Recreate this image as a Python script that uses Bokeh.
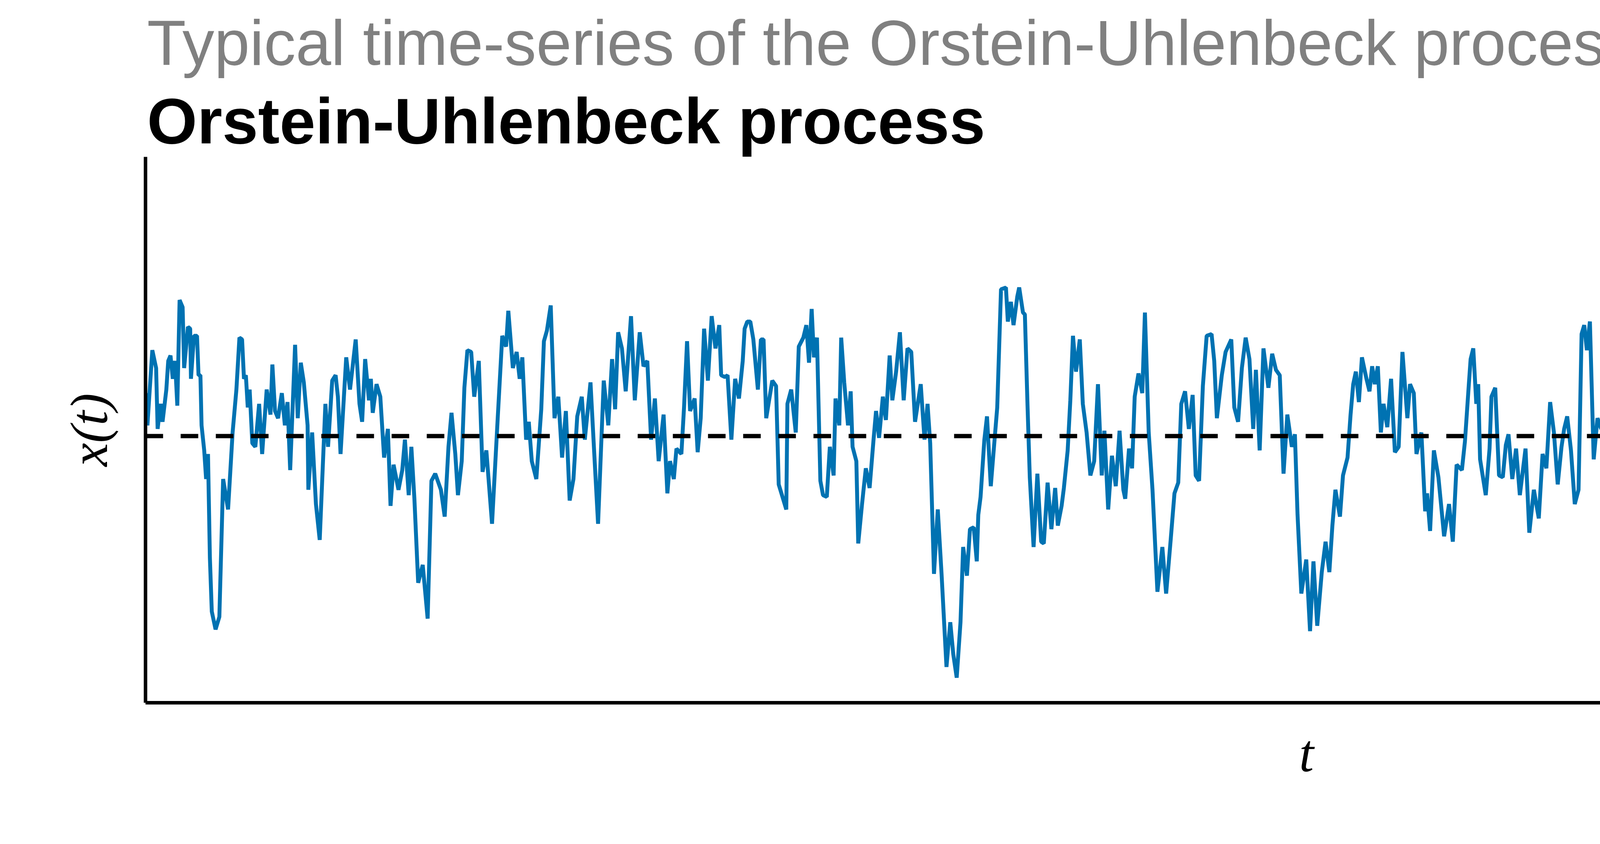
from bokeh.plotting import figure
from bokeh.models import Span, Range1d, Title
from bokeh.embed import file_html
from bokeh.resources import INLINE

# time steps (arbitrary units) and process values
t = [10, 15, 28, 38, 42, 50, 55, 65, 70, 76, 82, 88, 94, 100, 108, 112, 122, 128, 130, 138, 146, 150, 155, 158, 165, 170, 175, 180, 185, 195, 205, 215, 228, 240, 250, 258, 265, 270, 275, 280, 285, 292, 300, 310, 318, 330, 340, 345, 352, 360, 370, 378, 385, 392, 405, 412, 420, 428, 438, 440, 450, 460, 470, 485, 492, 503, 512, 518, 525, 540, 550, 565, 575, 582, 590, 600, 605, 610, 620, 630, 640, 650, 657, 665, 678, 688, 695, 705, 712, 720, 730, 742, 755, 765, 775, 790, 800, 810, 818, 828, 835, 845, 852, 860, 870, 878, 890, 900, 910, 925, 940, 952, 962, 968, 980, 990, 998, 1005, 1015, 1022, 1030, 1042, 1055, 1062, 1070, 1080, 1090, 1100, 1110, 1120, 1130, 1140, 1150, 1162, 1170, 1185, 1195, 1205, 1220, 1232, 1242, 1250, 1258, 1268, 1278, 1292, 1302, 1315, 1325, 1335, 1345, 1355, 1365, 1378, 1388, 1395, 1405, 1412, 1425, 1432, 1440, 1448, 1460, 1468, 1476, 1485, 1495, 1505, 1515, 1525, 1530, 1540,
     1547, 1557, 1567, 1577, 1587, 1592, 1599, 1607, 1615, 1627, 1635, 1642, 1649, 1665, 1675, 1682, 1702, 1705, 1715, 1727, 1735, 1747, 1755, 1762, 1769, 1775, 1783, 1792, 1799, 1809, 1817, 1827, 1832, 1842, 1847, 1855, 1865, 1872, 1877, 1887, 1892, 1902, 1912, 1922, 1932, 1939, 1947, 1957, 1965, 1975, 1982, 1992, 2002, 2012, 2022, 2032, 2042, 2057, 2067, 2075, 2082, 2092, 2102, 2112, 2125, 2135, 2143, 2152, 2162, 2169, 2179, 2187, 2197, 2205, 2209, 2215, 2225, 2232, 2242, 2252, 2259, 2269, 2282, 2287, 2295, 2302, 2312, 2317, 2327, 2332, 2339, 2345, 2355, 2365, 2375, 2382, 2392, 2402, 2412, 2419, 2429, 2435, 2445, 2452, 2459, 2467, 2477, 2485, 2495, 2505, 2515, 2525, 2535, 2542, 2552, 2562, 2572, 2582, 2592, 2597, 2607, 2615, 2622, 2632, 2642, 2649, 2659, 2669, 2682, 2695, 2705, 2717, 2727, 2737, 2745, 2755, 2765, 2775, 2783, 2792, 2802, 2812, 2825, 2832, 2839, 2852, 2862, 2877, 2885, 2895, 2905, 2915, 2925, 2935, 2942, 2952, 2962, 2975, 2985, 2995, 3005, 3015, 3025, 3037, 3045, 3052, 3062, 3075, 3085,
     3094, 3104, 3116, 3126, 3136, 3144, 3152, 3164, 3172, 3184, 3192, 3199, 3206, 3214, 3222, 3234, 3242, 3249, 3256, 3264, 3272, 3279, 3289, 3299, 3309, 3319, 3329, 3342, 3349, 3359, 3366, 3379, 3389, 3394, 3402, 3412, 3424, 3439, 3452, 3462, 3472, 3486, 3494, 3504, 3509, 3516, 3524, 3529, 3534, 3549, 3559, 3564, 3574, 3584, 3594, 3602, 3609, 3619, 3629, 3639, 3654, 3664, 3676, 3689, 3699, 3709, 3719, 3729, 3739, 3749, 3756, 3764, 3774, 3784, 3794, 3802, 3809, 3816, 3824, 3834, 3844, 3854, 3864, 3874, 3884, 3894, 3904, 3914, 3924, 3934, 3944, 3952, 3962, 3972, 3979, 3984, 3994, 4006, 4019, 4029, 4034, 4049, 4059, 4069, 4079, 4089, 4099, 4109, 4116, 4124, 4134, 4144, 4152, 4159, 4169, 4179, 4189, 4199, 4206, 4216, 4224, 4234, 4242, 4249, 4259, 4272, 4282, 4289, 4299, 4309, 4319, 4329, 4334, 4342, 4346, 4352, 4359, 4369, 4379, 4389, 4399, 4409, 4416, 4424, 4434, 4442, 4449, 4459, 4466, 4474, 4484, 4492, 4502, 4512, 4519, 4529, 4539, 4546, 4556, 4566, 4574, 4584, 4594, 4604, 4614, 4624, 4636,
     4641, 4649, 4656, 4661, 4669, 4676, 4686, 4699, 4709, 4713, 4723, 4733, 4741, 4751, 4761, 4773, 4781, 4789, 4799, 4807, 4821, 4836, 4846, 4856, 4871, 4879, 4891, 4901, 4911, 4921, 4933, 4946, 4959, 4971, 4986, 5001, 5009, 5019, 5029, 5036, 5046, 5053, 5061, 5066, 5076, 5081, 5091, 5099, 5106, 5119, 5126, 5136, 5149, 5156, 5166, 5176, 5186, 5196, 5211, 5221, 5231, 5241, 5251, 5261, 5271, 5281, 5291, 5303, 5311, 5321, 5331, 5341, 5351, 5366, 5376, 5389, 5396, 5406, 5416, 5426, 5436, 5446, 5456, 5461, 5471, 5481, 5491, 5501, 5511, 5521, 5536, 5549, 5559, 5566, 5576, 5586, 5596, 5601, 5613, 5626, 5631, 5641, 5649, 5659, 5669, 5681, 5696, 5706, 5716, 5723, 5736, 5746, 5756, 5761, 5771, 5776, 5786, 5796, 5806, 5819, 5829, 5839, 5846, 5856, 5866, 5876, 5886, 5899, 5909, 5913, 5923, 5933, 5943, 5953, 5961, 5971, 5981, 5993, 6003, 6013, 6021, 6031, 6041, 6051, 6059, 6069, 6079, 6091, 6101, 6111, 6121, 6131]

x = [1.20, 0.30, 2.40, 1.90, 0.20, 0.90, 0.40, 1.30, 2.10, 2.25, 1.60, 2.10, 0.85, 3.80, 3.60, 1.90, 3.05, 3.00, 1.60, 2.80, 2.80, 1.70, 1.70, 0.30, -0.40, -1.20, -0.50, -3.40, -4.90, -5.40, -5.05, -1.20, -2.05, 0.10, 1.30, 2.75, 2.70, 1.60, 1.70, 0.80, 1.30, -0.20, -0.30, 0.90, -0.50, 1.30, 0.60, 2.00, 0.70, 0.50, 1.20, 0.30, 0.95, -0.95, 2.55, 0.50, 2.05, 1.50, 0.30, -1.50, 0.10, -1.90, -2.90, 0.90, -0.30, 1.55, 1.70, 1.10, -0.50, 2.20, 1.30, 2.70, 0.90, 0.40, 2.15, 1.00, 1.60, 0.65, 1.45, 1.10, -0.60, 0.20, -1.95, -0.80, -1.50, -0.95, -0.10, -1.65, -0.30, -1.75, -4.10, -3.60, -5.10, -1.25, -1.05, -1.50, -2.25, -0.30, 0.65, -0.50, -1.65, -0.70, 1.35, 2.40, 2.35, 1.10, 2.10, -1.00, -0.40, -2.45, 0.50, 2.80, 2.50, 3.50, 1.90, 2.35, 1.60, 2.20, -0.10, 0.40, -0.70, -1.20, 0.75, 2.65, 2.95, 3.65, 0.50, 1.10, -0.60, 0.70, -1.80, -1.20, 0.55, 1.10, -0.10, 1.50, -0.50, -2.45, 1.55, 0.30, 2.15, 0.75, 2.90, 2.45, 1.25, 3.35, 1.00, 2.90, 1.95, 2.10, -0.10, 1.05, -0.70, 0.60, -1.60, -0.70, -1.20, -0.35, -0.50, 0.80, 2.65, 0.70, 1.05, -0.45, 0.50, 3.00, 1.55, 3.35, 2.45, 3.10, 1.70, 1.65,
     1.70, -0.10, 1.60, 1.05, 2.10, 3.00, 3.20, 3.20, 2.70, 1.30, 2.70, 2.70, 0.50, 1.55, 1.40, -1.35, -2.05, 0.90, 1.30, 0.10, 2.50, 2.75, 3.10, 2.05, 3.55, 2.20, 2.75, -1.25, -1.65, -1.70, -0.30, -1.10, 1.05, 0.30, 2.75, 1.50, 0.30, 1.25, -0.30, -0.70, -3.00, -1.90, -0.90, -1.45, -0.15, 0.70, -0.05, 1.10, 0.45, 2.25, 1.00, 1.80, 2.90, 1.00, 2.45, 2.35, 0.40, 1.45, -0.10, 0.90, -0.20, -3.85, -2.05, -3.85, -6.45, -5.20, -6.10, -6.75, -5.20, -3.10, -3.90, -2.60, -2.55, -3.50, -2.20, -1.70, -0.10, 0.55, -1.40, -0.10, 0.80, 4.10, 4.15, 3.20, 3.75, 3.10, 3.90, 4.15, 3.45, 3.40, 0.85, -1.15, -3.10, -1.05, -2.95, -3.00, -1.30, -2.60, -1.45, -2.50, -1.95, -1.45, -0.40, 1.00, 2.80, 1.80, 2.70, 0.90, 0.10, -1.10, -0.70, 1.45, -1.10, 0.15, -2.05, -0.55, -1.40, 0.15, -1.50, -1.75, -0.35, -0.90, 1.10, 1.75, 1.20, 3.45, 0.10, -1.50, -4.35, -3.10, -4.40, -2.90, -1.60, -1.30, 0.90, 1.25, 0.20, 1.15, -1.10, -1.25, 1.40, 2.80, 2.85, 2.10, 0.50, 1.70, 2.35, 2.70, 0.80, 0.40, 1.90, 2.75, 2.15, 0.20, 1.85, -0.40, 2.45, 1.35, 2.30, 1.85, 1.70, -1.05, 0.60, -0.30, 0.05, -2.20, -4.40, -3.45, -5.45,
     -3.50, -5.30, -3.80, -2.95, -3.80, -2.50, -1.50, -2.25, -1.10, -0.60, 0.60, 1.45, 1.80, 0.95, 2.20, 1.60, 1.25, 1.95, 1.45, 1.95, 0.10, 0.90, 0.25, 1.60, -0.45, -0.30, 2.35, 0.50, 1.45, 1.20, -0.50, 0.10, -2.10, -1.60, -2.65, -0.40, -1.15, -2.80, -1.90, -2.95, -0.80, -0.95, -0.15, 1.40, 2.15, 2.45, 0.90, 1.45, -0.65, -1.65, -0.35, 1.10, 1.35, -1.10, -1.15, -0.25, 0.05, -1.20, -0.35, -1.65, -0.35, -2.70, -1.50, -2.30, -0.50, -0.90, 0.95, 0.10, -1.35, -0.30, 0.20, 0.55, -0.40, -1.90, -1.50, 2.85, 3.10, 2.40, 3.20, -0.65, 0.50, 0.20, 0.20, -0.95, -1.95, -0.60, -1.55, 0.10, 0.30, -1.15, -0.95, -3.55, -0.35, 0.30, 0.80, 1.45, 1.80, -1.40, 1.35, 0.70, 2.35, 0.30, -1.35, -0.35, -1.00, 0.30, -0.70, -0.25, 0.80, -0.70, -1.25, -1.30, 0.35, 1.05, 1.10, 1.70, 0.85, 1.35, 0.60, 1.45, 2.10, 2.35, 5.60, 6.15, 3.40, 5.75, 3.65, 4.90, 5.85, 3.80, 4.60, 2.95, 6.00, 6.80, 7.05, 5.60, 3.90, 5.10, 6.10, 4.60, 5.70, 2.55, 2.40, 3.45, 5.60, 4.75, 6.60, 4.15, 5.35, 4.10, 2.60, 0.70, 0.20, 0.95, 2.50, 0.05, 1.70, 0.25, 1.75, 0.80, 2.05, 3.00, 3.00, -0.10, 0.95, 1.20, 1.85,
     1.85, -0.15, 0.95, 1.50, 0.60, -0.70, 0.65, 1.30, -0.10, -1.35, -2.20, -0.75, -2.30, -2.90, -1.20, -2.80, -0.45, 2.15, 2.85, 1.20, 2.40, 1.90, 0.20, -2.25, -3.05, -1.85, -1.30, -2.40, -2.80, -2.10, -1.85, -3.25, -1.75, 0.35, -0.60, 0.35, -0.85, 0.35, -0.35, 1.20, 1.40, 0.50, -0.40, -2.15, -2.10, 0.25, -1.10, 0.20, -2.35, -2.40, -0.30, 1.00, 0.35, 0.65, -1.30, -1.95, -0.90, -0.10, -1.85, -1.45, 0.40, 0.95, 0.90, -0.30, -1.30, -0.55, -1.55, 0.65, 0.10, -1.65, -2.05, -0.65, -2.70, -3.50, -0.95, -0.40, -1.90, -0.90, -2.90, -4.05, -0.90, -1.35, -0.20, -2.55, -1.05, -0.90, -2.50, -1.90, -1.25, -3.00, -3.60, -1.35, -0.60, 0.90, 1.15, 0.10, -0.60, -1.60, -1.20, -2.65, -4.90, -3.75, -5.15, -2.65, -3.70, -2.00, -3.70, -2.30, -3.75, -2.15, -3.50, -1.85, -2.30, -0.55, -0.95, -1.75, -0.50, -0.45, -1.40, 0.10, -1.90, -2.05, -1.00, -0.50, 0.15, -1.40, -2.85, -1.05, -1.80, -0.75, -2.95, -2.70, -1.80, -2.70, -2.90, -2.35, -2.60, -0.75, -2.65, -0.85, -2.25, -3.25, -1.25, -2.00, -0.40, 0.65, -1.55, -0.50, 0.10, -0.60, 0.70, -1.40]

mean_level = 0.0
title = "Orstein-Uhlenbeck process"
subtitle = "Typical time-series of the Orstein-Uhlenbeck process with a = -1 and b = 0.2."

p = figure(width=6464, height=2144, output_backend="svg", toolbar_location=None,
           x_range=Range1d(10, 6141), y_range=Range1d(-7.45, 7.8),
           title=subtitle,
           min_border_left=372, min_border_right=148, min_border_top=150, min_border_bottom=346)
p.outline_line_color = None
p.grid.visible = False
p.background_fill_color = "white"

# subtitle sits right above the plot
p.title.align = "left"
p.title.offset = 4
p.title.text_font = "Liberation Sans"
p.title.text_font_style = "normal"
p.title.text_font_size = "163px"
p.title.text_color = "#808080"
p.title.standoff = 30

# main title above the subtitle
p.add_layout(Title(text=title, align="left", offset=4, text_font="Liberation Sans",
                   text_font_style="bold", text_font_size="165px", text_color="black",
                   standoff=0), "above")

for ax in (p.xaxis[0], p.yaxis[0]):
    ax.ticker = []
    ax.major_tick_line_color = None
    ax.minor_tick_line_color = None
    ax.major_label_text_font_size = "0px"
    ax.axis_line_width = 9
    ax.axis_line_color = "black"
    ax.axis_label_text_font = "Liberation Serif"
    ax.axis_label_text_font_style = "italic"
    ax.axis_label_text_font_size = "135px"
    ax.axis_label_text_color = "black"

p.xaxis.axis_label = "t"
p.xaxis.axis_label_standoff = 55
p.yaxis.axis_label = "x(t)"
p.yaxis.axis_label_standoff = 70

p.line(t, x, line_color="#0072B2", line_width=10)

p.add_layout(Span(location=mean_level, dimension="width", line_color="black",
                  line_width=11, line_dash="45 45"))

open("out.html", "w").write(file_html(p, INLINE))
